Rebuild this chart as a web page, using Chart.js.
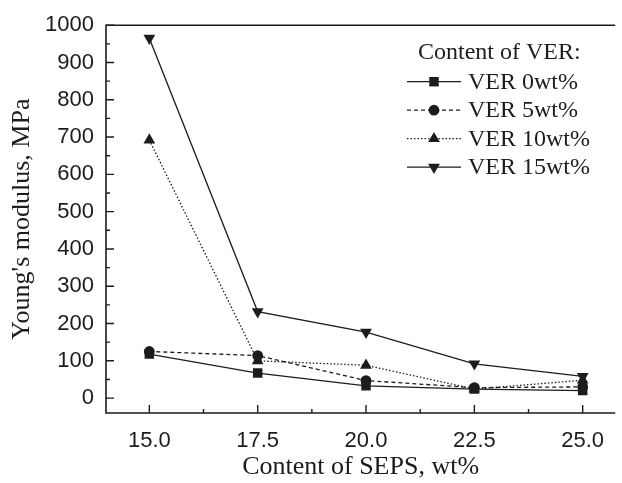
<!DOCTYPE html>
<html><head><meta charset="utf-8">
<script src="https://cdn.jsdelivr.net/npm/chart.js@4"></script>
<style>html,body{margin:0;padding:0;background:#fff}#wrap{width:622px;height:483px}</style>
</head><body><div id="wrap"><canvas id="c" width="622" height="483"></canvas></div>
<script>
const sepsContent = [15.0, 17.5, 20.0, 22.5, 25.0];
const ver0 = [118, 67, 33, 24, 20];
const ver5 = [125, 114, 47, 28, 30];
const ver10 = [692, 100, 88, 24, 48];
const ver15 = [965, 232, 177, 92, 58];
const seriesLabels = ['VER 0wt%', 'VER 5wt%', 'VER 10wt%', 'VER 15wt%'];
const xTicks = [15.0, 17.5, 20.0, 22.5, 25.0];
const yTicks = [0, 100, 200, 300, 400, 500, 600, 700, 800, 900, 1000];
const legendTitle = 'Content of VER:';

const ink = '#1c1c1c';
const toPts = arr => arr.map((v, i) => ({x: sepsContent[i], y: v}));
function ds(label, data, style, rot, dash, r) {
  return {label, data: toPts(data), borderColor: ink, backgroundColor: ink, borderWidth: 1.3,
    borderDash: dash, pointStyle: style, rotation: rot, pointRadius: r,
    pointBorderWidth: 0, tension: 0, fill: false};
}
const datasets = [
  ds(seriesLabels[0], ver0, 'rect', 0, [], 6.7),
  ds(seriesLabels[1], ver5, 'circle', 0, [4, 3], 5.4),
  ds(seriesLabels[2], ver10, 'triangle', 0, [1.5, 2], 6.8),
  ds(seriesLabels[3], ver15, 'triangle', 180, [], 6.8)
];

const framePlugin = {
  id: 'frame',
  afterDraw(chart) {
    const {ctx, chartArea: a, scales: {x, y}} = chart;
    ctx.save();
    ctx.strokeStyle = ink; ctx.lineWidth = 1.6;
    ctx.beginPath();
    ctx.moveTo(a.right, a.top); ctx.lineTo(a.left, a.top); ctx.lineTo(a.left, a.bottom); ctx.lineTo(a.right, a.bottom);
    ctx.stroke();
    ctx.lineWidth = 1.4;
    ctx.beginPath();
    xTicks.forEach((v, i) => {
      const px = x.getPixelForValue(v);
      ctx.moveTo(px, a.bottom); ctx.lineTo(px, a.bottom - 8);
      if (i < xTicks.length - 1) {
        const m = x.getPixelForValue((v + xTicks[i + 1]) / 2);
        ctx.moveTo(m, a.bottom); ctx.lineTo(m, a.bottom - 4);
      }
    });
    yTicks.forEach((v, i) => {
      const py = y.getPixelForValue(v);
      ctx.moveTo(a.left, py); ctx.lineTo(a.left + 8, py);
      if (i < yTicks.length - 1) {
        const m = y.getPixelForValue((v + yTicks[i + 1]) / 2);
        ctx.moveTo(a.left, m); ctx.lineTo(a.left + 4, m);
      }
    });
    ctx.stroke();
    // legend
    const lx = a.left + 301, ty = a.top + 28;
    ctx.fillStyle = ink;
    ctx.font = '24px "Liberation Serif"';
    ctx.textBaseline = 'middle';
    ctx.fillText(legendTitle, lx + 11, ty);
    chart.data.datasets.forEach((d, i) => {
      const yy = ty + 28.5 * (i + 1);
      ctx.lineWidth = d.borderWidth;
      ctx.setLineDash(d.borderDash);
      ctx.beginPath(); ctx.moveTo(lx, yy); ctx.lineTo(lx + 54, yy); ctx.stroke();
      ctx.setLineDash([]);
      Chart.helpers.drawPoint(ctx, {pointStyle: d.pointStyle, rotation: d.rotation, radius: d.pointRadius, borderWidth: 0}, lx + 27, yy);
      ctx.fillText(d.label, lx + 61, yy + 1);
    });
    ctx.restore();
  }
};

new Chart(document.getElementById('c'), {
  type: 'line',
  data: {datasets},
  options: {
    responsive: false, animation: false,
    layout: {padding: {top: 25, right: 2, left: 0, bottom: 0}},
    plugins: {legend: {display: false}, tooltip: {enabled: false}},
    scales: {
      x: {type: 'linear', min: 14.0, max: 25.75,
        afterBuildTicks: s => { s.ticks = xTicks.map(v => ({value: v})); },
        afterFit: s => { s.height = 70; },
        grid: {display: false, drawTicks: false}, border: {display: false},
        ticks: {padding: 15, color: ink, font: {family: '"Liberation Sans"', size: 22}, callback: v => Number(v).toFixed(1)},
        title: {display: true, text: 'Content of SEPS, wt%', color: ink, font: {family: '"Liberation Serif"', size: 26}, padding: {top: 0, bottom: 0}}
      },
      y: {min: -40, max: 1000,
        afterBuildTicks: s => { s.ticks = yTicks.map(v => ({value: v})); },
        afterFit: s => { s.width = 106; },
        grid: {display: false, drawTicks: false}, border: {display: false},
        ticks: {padding: 12, color: ink, font: {family: '"Liberation Sans"', size: 22}, callback: v => String(v)},
        title: {display: true, text: "Young's modulus, MPa", color: ink, font: {family: '"Liberation Serif"', size: 26}, padding: {top: 7, bottom: 7}}
      }
    }
  },
  plugins: [framePlugin]
});
</script></body></html>
